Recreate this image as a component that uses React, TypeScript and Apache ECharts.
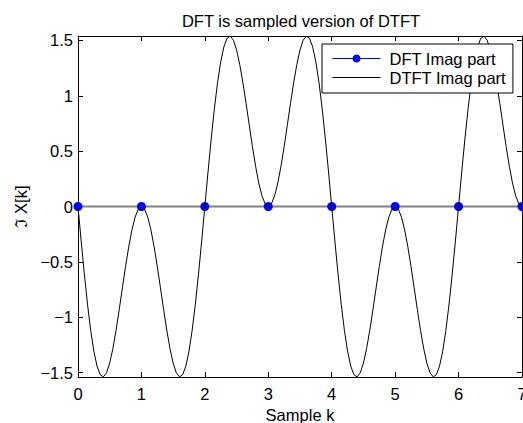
import React, { useEffect, useRef } from "react";
import * as echarts from "echarts";

const titleText = "DFT is sampled version of DTFT";
const xName = "Sample k";
const yName = "\u2111 X[k]";
const seriesNames = ["DFT Imag part", "DTFT Imag part"];

const sampleK = [0, 1, 2, 3, 4, 5, 6, 7];
const dftImag = [0, 0, 0, 0, 0, 0, 0, 0];

const xTicks = [0, 1, 2, 3, 4, 5, 6, 7];
const yTicks = [-1.5, -1, -0.5, 0, 0.5, 1, 1.5];

const dtftStep = 0.05;
// DTFT imaginary part, k = 0 .. 7 every 0.05
const dtftImag = [
  // 0 .. 0.95
  0, -0.3119, -0.6104, -0.8829, -1.118, -1.3066, -1.4417, -1.5194, -1.5388, -1.5021,
  -1.4142, -1.2829, -1.118, -0.9311, -0.7346, -0.5412, -0.3633, -0.212, -0.0967, -0.0245,
  // 1 .. 1.95
  0, -0.0245, -0.0967, -0.212, -0.3633, -0.5412, -0.7346, -0.9311, -1.118, -1.2829,
  -1.4142, -1.5021, -1.5388, -1.5194, -1.4417, -1.3066, -1.118, -0.8829, -0.6104, -0.3119,
  // 2 .. 2.95
  0, 0.3119, 0.6104, 0.8829, 1.118, 1.3066, 1.4417, 1.5194, 1.5388, 1.5021,
  1.4142, 1.2829, 1.118, 0.9311, 0.7346, 0.5412, 0.3633, 0.212, 0.0967, 0.0245,
  // 3 .. 3.95
  0, 0.0245, 0.0967, 0.212, 0.3633, 0.5412, 0.7346, 0.9311, 1.118, 1.2829,
  1.4142, 1.5021, 1.5388, 1.5194, 1.4417, 1.3066, 1.118, 0.8829, 0.6104, 0.3119,
  // 4 .. 4.95
  0, -0.3119, -0.6104, -0.8829, -1.118, -1.3066, -1.4417, -1.5194, -1.5388, -1.5021,
  -1.4142, -1.2829, -1.118, -0.9311, -0.7346, -0.5412, -0.3633, -0.212, -0.0967, -0.0245,
  // 5 .. 5.95
  0, -0.0245, -0.0967, -0.212, -0.3633, -0.5412, -0.7346, -0.9311, -1.118, -1.2829,
  -1.4142, -1.5021, -1.5388, -1.5194, -1.4417, -1.3066, -1.118, -0.8829, -0.6104, -0.3119,
  // 6 .. 6.95
  0, 0.3119, 0.6104, 0.8829, 1.118, 1.3066, 1.4417, 1.5194, 1.5388, 1.5021,
  1.4142, 1.2829, 1.118, 0.9311, 0.7346, 0.5412, 0.3633, 0.212, 0.0967, 0.0245,
  // 7
  0,
];

const FONT = "'Liberation Sans', Arial, Helvetica, sans-serif";
const FS = 16.5;

export default function App() {
  const ref = useRef<HTMLDivElement>(null);

  useEffect(() => {
    if (!ref.current) return;
    const chart = echarts.init(ref.current, null, { renderer: "svg" });

    const dtftData = dtftImag.map((v, i) => [Math.round(i * dtftStep * 100) / 100, v]);
    const dftData = sampleK.map((k, i) => [k, dftImag[i]]);

    const fmt = (v: number) => String(v).replace("-", "\u2212");

    const axisCommonX = {
      type: "value" as const,
      min: 0,
      max: 7,
      interval: 1,
      splitLine: { show: false },
      axisLine: { show: true, onZero: false, lineStyle: { color: "#000", width: 1 } },
      axisTick: { show: true, inside: true, length: 5, lineStyle: { color: "#000" }, customValues: xTicks },
    };
    const axisCommonY = {
      type: "value" as const,
      min: -1.54,
      max: 1.54,
      splitLine: { show: false },
      axisLine: { show: true, onZero: false, lineStyle: { color: "#000", width: 1 } },
      axisTick: { show: true, inside: true, length: 5, lineStyle: { color: "#000" }, customValues: yTicks },
    };

    chart.setOption({
      animation: false,
      backgroundColor: "#fff",
      textStyle: { fontFamily: FONT },
      title: {
        text: titleText,
        left: 296,
        top: 7,
        textAlign: "center",
        textStyle: { fontFamily: FONT, fontSize: FS, fontWeight: "normal", color: "#000" },
      },
      grid: { left: 78, right: 1, top: 36, bottom: 46, containLabel: false, outerBoundsMode: "none" },
      legend: {
        orient: "vertical",
        left: 322,
        top: 44,
        padding: [5, 7, 6, 10],
        itemGap: 0,
        itemWidth: 48,
        itemHeight: 10,
        backgroundColor: "#fff",
        borderColor: "#000",
        borderWidth: 1,
        borderRadius: 0,
        textStyle: { fontFamily: FONT, fontSize: FS, color: "#000", lineHeight: 19, padding: [0, 0, 0, 4] },
        data: [
          { name: seriesNames[0], lineStyle: { color: "#0000ff", width: 1 }, itemStyle: { color: "#0000ff" } },
          {
            name: seriesNames[1],
            lineStyle: { color: "#000", width: 1 },
            itemStyle: { color: "rgba(0,0,0,0)", borderWidth: 0 },
          },
        ],
      },
      xAxis: [
        {
          ...axisCommonX,
          position: "bottom",
          name: xName,
          nameLocation: "middle",
          nameGap: 25,
          nameTextStyle: { fontFamily: FONT, fontSize: FS, color: "#000" },
          axisLabel: { show: true, color: "#000", fontFamily: FONT, fontSize: FS, margin: 8, customValues: xTicks },
        },
        {
          ...axisCommonX,
          position: "top",
          axisLabel: { show: false },
        },
      ],
      yAxis: [
        {
          ...axisCommonY,
          position: "left",
          name: yName,
          nameLocation: "middle",
          nameGap: 44,
          nameRotate: 90,
          nameTextStyle: { fontFamily: FONT, fontSize: FS, color: "#000" },
          axisLabel: {
            show: true,
            color: "#000",
            fontFamily: FONT,
            fontSize: FS,
            margin: 5,
            customValues: yTicks,
            formatter: fmt,
          },
        },
        {
          ...axisCommonY,
          position: "right",
          axisLabel: { show: false },
        },
      ],
      series: [
        {
          name: seriesNames[0],
          type: "line",
          xAxisIndex: 0,
          yAxisIndex: 0,
          data: dftData,
          symbol: "circle",
          symbolSize: 9,
          showSymbol: true,
          lineStyle: { color: "#808080", width: 2 },
          itemStyle: { color: "#0000ff" },
          z: 2,
        },
        {
          name: seriesNames[1],
          type: "line",
          xAxisIndex: 0,
          yAxisIndex: 0,
          data: dtftData,
          showSymbol: false,
          symbol: "none",
          smooth: false,
          lineStyle: { color: "#000", width: 1 },
          itemStyle: { color: "#000" },
          z: 3,
        },
      ],
    });

    return () => chart.dispose();
  }, []);

  return (
    <div
      ref={ref}
      style={{ position: "fixed", left: 0, top: 0, width: 523, height: 423 }}
    />
  );
}
